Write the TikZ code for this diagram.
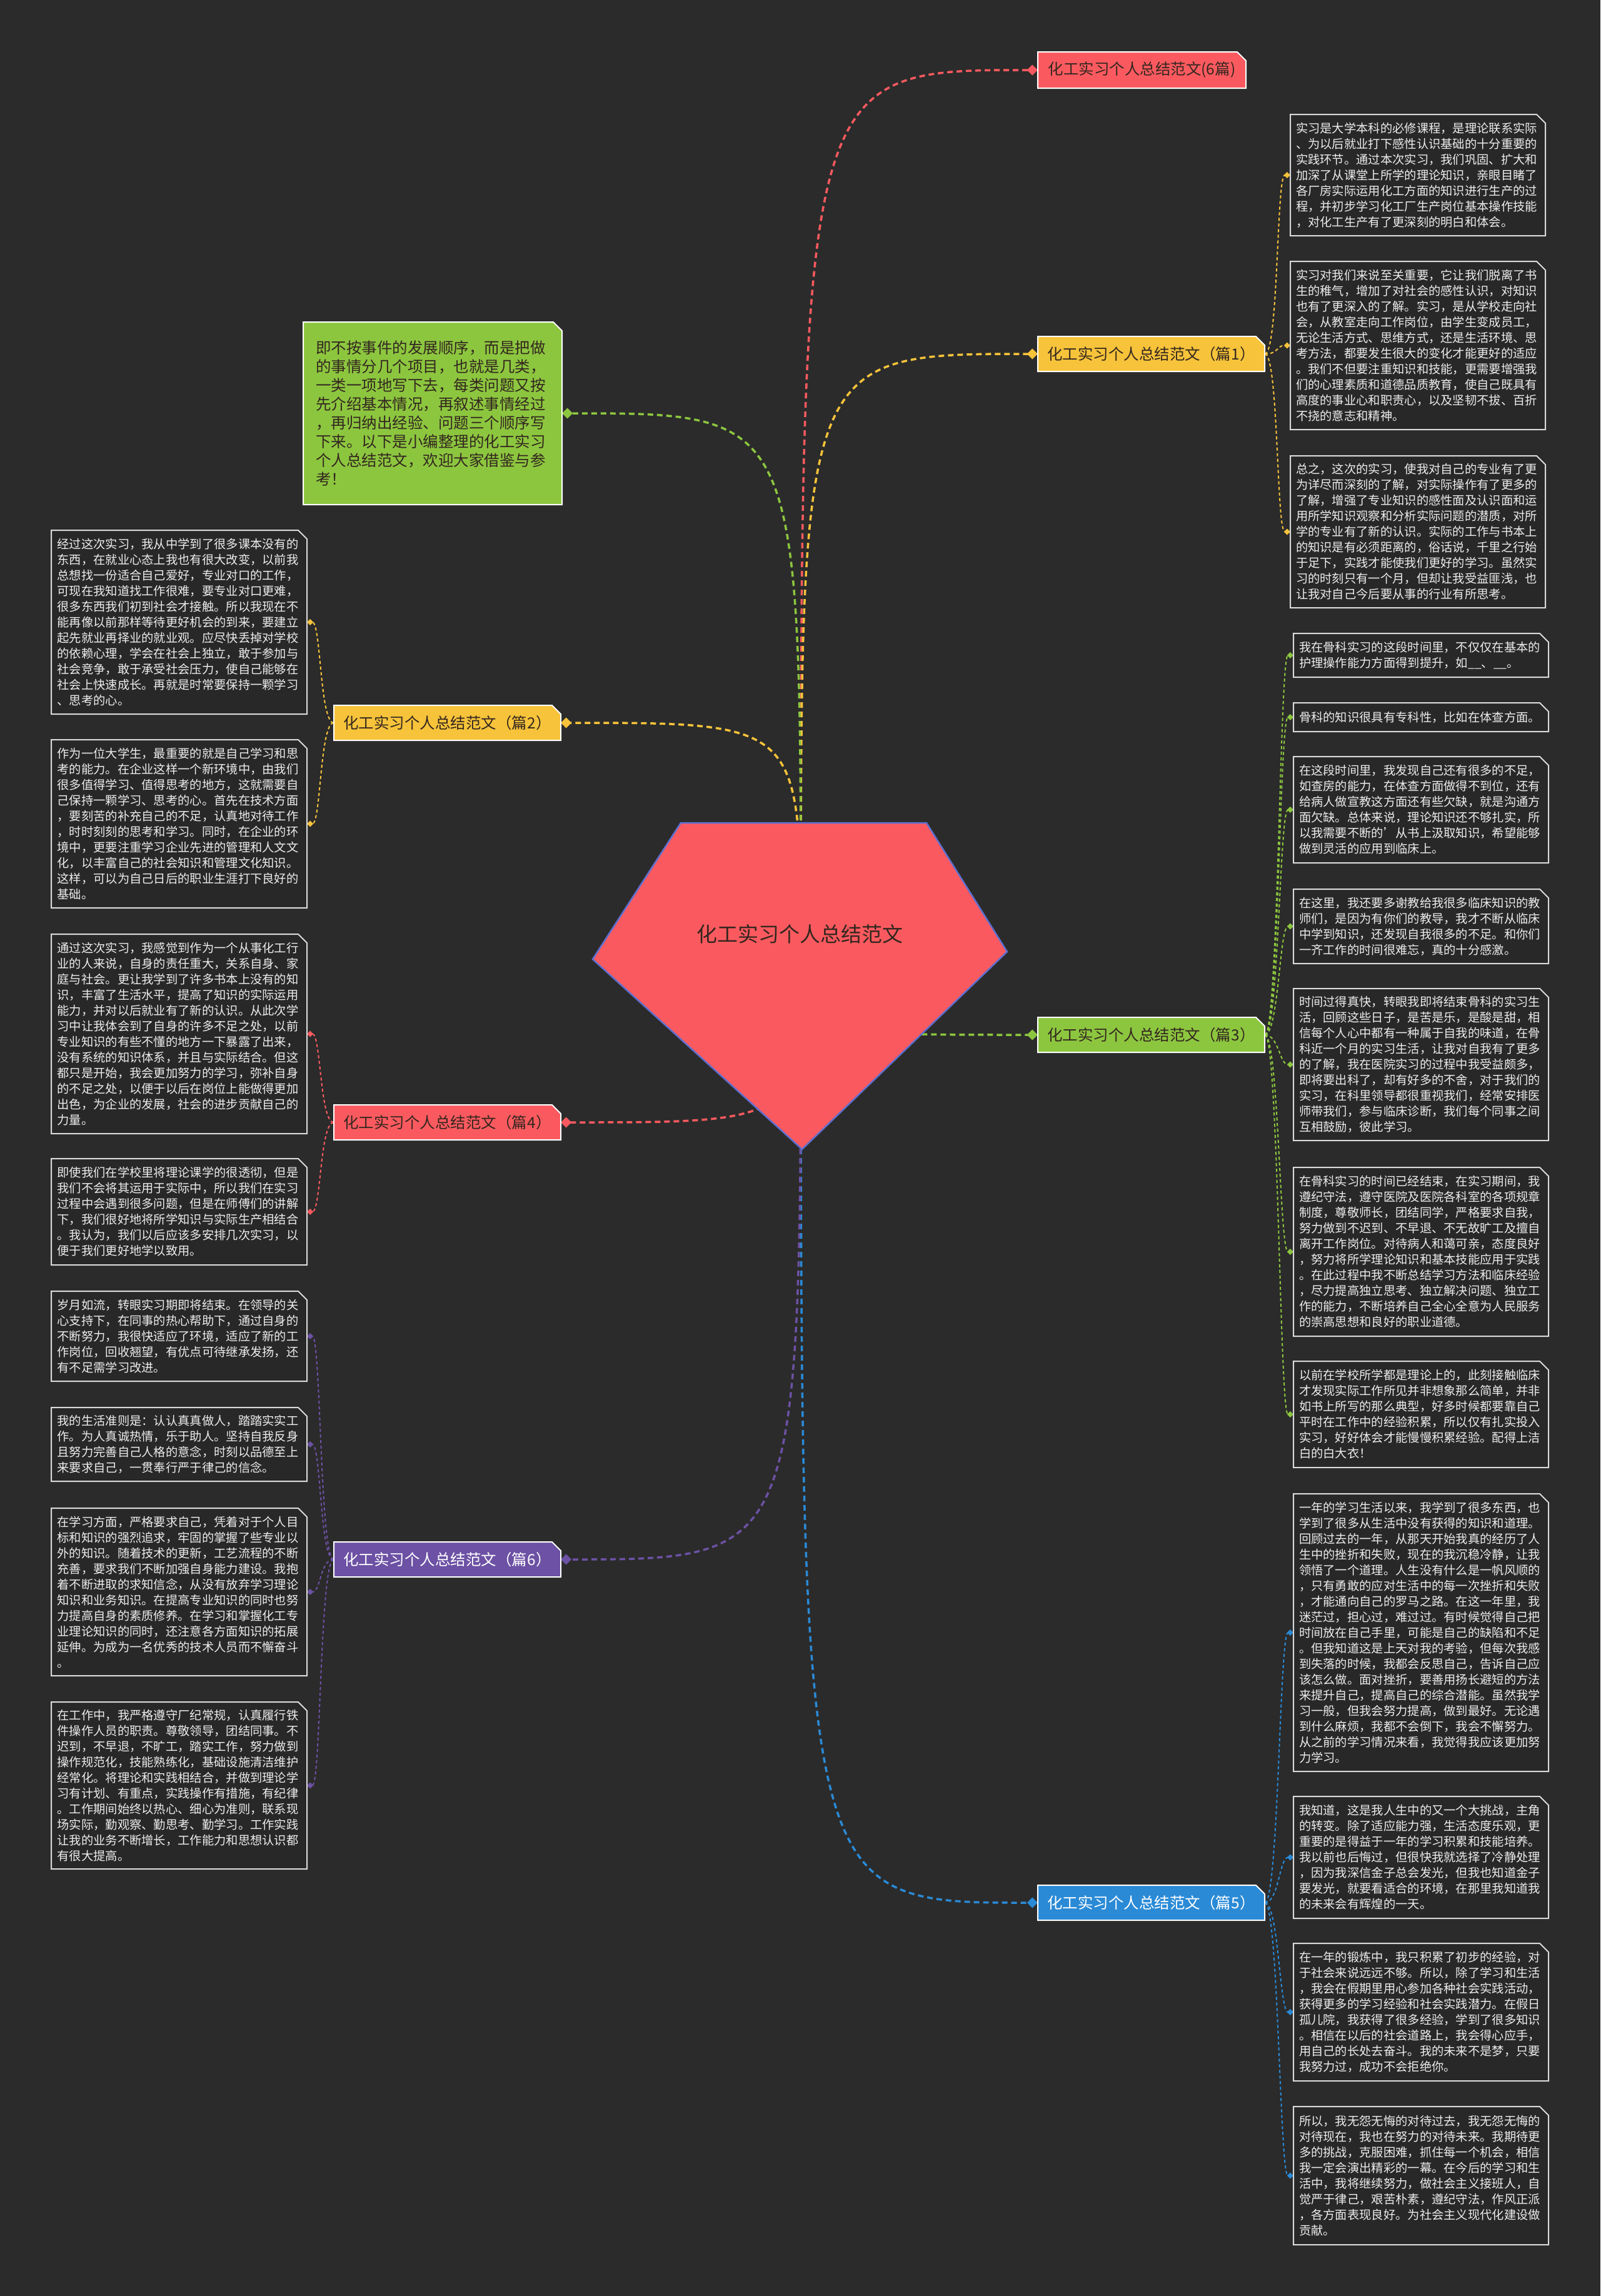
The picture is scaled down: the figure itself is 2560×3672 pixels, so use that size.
\documentclass[tikz,border=0pt]{standalone}
\usepackage{fontspec}
\setmainfont{Noto Sans CJK SC}
\usetikzlibrary{arrows.meta}

\definecolor{bgc}{HTML}{2B2B2B}
\definecolor{boxc}{HTML}{282828}
\definecolor{edgec}{HTML}{DADADA}
\definecolor{txtc}{HTML}{EDEDED}
\definecolor{darkc}{HTML}{33261F}
\definecolor{mmred}{HTML}{FA5A5F}
\definecolor{mmyellow}{HTML}{F6C33A}
\definecolor{mmgreen}{HTML}{8CC63F}
\definecolor{mmblue}{HTML}{2A8AD6}
\definecolor{mmpurple}{HTML}{6C51A4}
\definecolor{rimc}{HTML}{5E6FD0}

\pgfdeclarelayer{back}
\pgfdeclarelayer{links}
\pgfsetlayers{back,links,main}

\tikzset{
  block/.style={fill=boxc, draw=edgec, line width=2pt},
  blocktext/.style={text=txtc, text width=390pt, align=left, inner sep=0pt,
    font=\fontsize{19.3}{25}\selectfont},
  labbox/.style={draw=white, line width=2pt},
  labtext/.style={inner sep=0pt, text=darkc, font=\fontsize{24.5}{29}\selectfont},
  introtext/.style={text=darkc, text width=374pt, align=left, inner sep=0pt,
    font=\fontsize{24.5}{30}\selectfont},
  link/.style={line width=3.5pt, dash pattern=on 9pt off 6pt,
    -{Turned Square[length=17pt,width=17pt]}},
  sublink/.style={line width=2pt, dash pattern=on 5pt off 4pt,
    -{Turned Square[length=10pt,width=10pt]}}
}

% box with the top right corner cut off, and a node of the same size on it
\newcommand{\cbox}[8]{%
  \draw[#1] (#4,#5) -- (#6-14,#5) -- (#6,#5+14) -- (#6,#7) -- (#4,#7) -- cycle;
  \node[#2, minimum width=#6pt-#4pt, minimum height=#7pt-#5pt] (#3)
    at ({(#4+#6)/2},{(#5+#7)/2}) {#8};
}

\begin{document}
\begin{tikzpicture}[x=1pt, y=-1pt]
  \useasboundingbox (0,0) rectangle (2560,3672);
  \begin{pgfonlayer}{back}
    \fill[bgc] (0,0) rectangle (2560,3672);
  \end{pgfonlayer}

  % centre
  \filldraw[fill=mmred, draw=rimc, line width=2.5pt]
    (1089,1316) -- (1482,1316) -- (1611,1522) -- (1283,1838) -- (948,1534) -- cycle;
  \coordinate (hub) at (1281,1522);
  \node[text=darkc, font=\fontsize{33}{40}\selectfont] (title) at (1279,1494) {化工实习个人总结范文};

  % branch labels
  \cbox{labbox, fill=mmred}{labtext}{l0}{1660}{83}{1993}{141}{化工实习个人总结范文(6篇)}
  \cbox{labbox, fill=mmyellow}{labtext}{l1}{1660}{538}{2023}{594}{化工实习个人总结范文（篇1）}
  \cbox{labbox, fill=mmyellow}{labtext}{l2}{534}{1128}{897}{1184}{化工实习个人总结范文（篇2）}
  \cbox{labbox, fill=mmgreen}{labtext}{l3}{1660}{1627}{2023}{1683}{化工实习个人总结范文（篇3）}
  \cbox{labbox, fill=mmred}{labtext}{l4}{534}{1767}{897}{1823}{化工实习个人总结范文（篇4）}
  \cbox{labbox, fill=mmblue}{labtext, text=white}{l5}{1660}{3015}{2023}{3071}{化工实习个人总结范文（篇5）}
  \cbox{labbox, fill=mmpurple}{labtext, text=white}{l6}{534}{2466}{897}{2522}{化工实习个人总结范文（篇6）}

  \cbox{labbox, fill=mmgreen}{introtext}{intro}{485}{515}{899}{807}{即不按事件的发展顺序，而是把做\\的事情分几个项目，也就是几类，\\一类一项地写下去，每类问题又按\\先介绍基本情况，再叙述事情经过\\，再归纳出经验、问题三个顺序写\\下来。以下是小编整理的化工实习\\个人总结范文，欢迎大家借鉴与参\\考！}

  % 篇1
  \cbox{block}{blocktext}{r11}{2064}{183}{2472}{377}{实习是大学本科的必修课程，是理论联系实际\\、为以后就业打下感性认识基础的十分重要的\\实践环节。通过本次实习，我们巩固、扩大和\\加深了从课堂上所学的理论知识，亲眼目睹了\\各厂房实际运用化工方面的知识进行生产的过\\程，并初步学习化工厂生产岗位基本操作技能\\，对化工生产有了更深刻的明白和体会。}
  \cbox{block}{blocktext}{r12}{2064}{418}{2472}{687}{实习对我们来说至关重要，它让我们脱离了书\\生的稚气，增加了对社会的感性认识，对知识\\也有了更深入的了解。实习，是从学校走向社\\会，从教室走向工作岗位，由学生变成员工，\\无论生活方式、思维方式，还是生活环境、思\\考方法，都要发生很大的变化才能更好的适应\\。我们不但要注重知识和技能，更需要增强我\\们的心理素质和道德品质教育，使自己既具有\\高度的事业心和职责心，以及坚韧不拔、百折\\不挠的意志和精神。}
  \cbox{block}{blocktext}{r13}{2064}{729}{2472}{972}{总之，这次的实习，使我对自己的专业有了更\\为详尽而深刻的了解，对实际操作有了更多的\\了解，增强了专业知识的感性面及认识面和运\\用所学知识观察和分析实际问题的潜质，对所\\学的专业有了新的认识。实际的工作与书本上\\的知识是有必须距离的，俗话说，千里之行始\\于足下，实践才能使我们更好的学习。虽然实\\习的时刻只有一个月，但却让我受益匪浅，也\\让我对自己今后要从事的行业有所思考。}

  % 篇3
  \cbox{block}{blocktext}{r31}{2069}{1013}{2477}{1083}{我在骨科实习的这段时间里，不仅仅在基本的\\护理操作能力方面得到提升，如\_\_、\_\_。}
  \cbox{block}{blocktext}{r32}{2069}{1124}{2477}{1170}{骨科的知识很具有专科性，比如在体查方面。}
  \cbox{block}{blocktext}{r33}{2069}{1210}{2477}{1380}{在这段时间里，我发现自己还有很多的不足，\\如查房的能力，在体查方面做得不到位，还有\\给病人做宣教这方面还有些欠缺，就是沟通方\\面欠缺。总体来说，理论知识还不够扎实，所\\以我需要不断的'从书上汲取知识，希望能够\\做到灵活的应用到临床上。}
  \cbox{block}{blocktext}{r34}{2069}{1422}{2477}{1541}{在这里，我还要多谢教给我很多临床知识的教\\师们，是因为有你们的教导，我才不断从临床\\中学到知识，还发现自我很多的不足。和你们\\一齐工作的时间很难忘，真的十分感激。}
  \cbox{block}{blocktext}{r35}{2069}{1581}{2477}{1824}{时间过得真快，转眼我即将结束骨科的实习生\\活，回顾这些日子，是苦是乐，是酸是甜，相\\信每个人心中都有一种属于自我的味道，在骨\\科近一个月的实习生活，让我对自我有了更多\\的了解，我在医院实习的过程中我受益颇多，\\即将要出科了，却有好多的不舍，对于我们的\\实习，在科里领导都很重视我们，经常安排医\\师带我们，参与临床诊断，我们每个同事之间\\互相鼓励，彼此学习。}
  \cbox{block}{blocktext}{r36}{2069}{1867}{2477}{2137}{在骨科实习的时间已经结束，在实习期间，我\\遵纪守法，遵守医院及医院各科室的各项规章\\制度，尊敬师长，团结同学，严格要求自我，\\努力做到不迟到、不早退、不无故旷工及擅自\\离开工作岗位。对待病人和蔼可亲，态度良好\\，努力将所学理论知识和基本技能应用于实践\\。在此过程中我不断总结学习方法和临床经验\\，尽力提高独立思考、独立解决问题、独立工\\作的能力，不断培养自己全心全意为人民服务\\的崇高思想和良好的职业道德。}
  \cbox{block}{blocktext}{r37}{2069}{2177}{2477}{2347}{以前在学校所学都是理论上的，此刻接触临床\\才发现实际工作所见并非想象那么简单，并非\\如书上所写的那么典型，好多时候都要靠自己\\平时在工作中的经验积累，所以仅有扎实投入\\实习，好好体会才能慢慢积累经验。配得上洁\\白的白大衣！}

  % 篇5
  \cbox{block}{blocktext}{r51}{2069}{2389}{2477}{2833}{一年的学习生活以来，我学到了很多东西，也\\学到了很多从生活中没有获得的知识和道理。\\回顾过去的一年，从那天开始我真的经历了人\\生中的挫折和失败，现在的我沉稳冷静，让我\\领悟了一个道理。人生没有什么是一帆风顺的\\，只有勇敢的应对生活中的每一次挫折和失败\\，才能通向自己的罗马之路。在这一年里，我\\迷茫过，担心过，难过过。有时候觉得自己把\\时间放在自己手里，可能是自己的缺陷和不足\\。但我知道这是上天对我的考验，但每次我感\\到失落的时候，我都会反思自己，告诉自己应\\该怎么做。面对挫折，要善用扬长避短的方法\\来提升自己，提高自己的综合潜能。虽然我学\\习一般，但我会努力提高，做到最好。无论遇\\到什么麻烦，我都不会倒下，我会不懈努力。\\从之前的学习情况来看，我觉得我应该更加努\\力学习。}
  \cbox{block}{blocktext}{r52}{2069}{2873}{2477}{3068}{我知道，这是我人生中的又一个大挑战，主角\\的转变。除了适应能力强，生活态度乐观，更\\重要的是得益于一年的学习积累和技能培养。\\我以前也后悔过，但很快我就选择了冷静处理\\，因为我深信金子总会发光，但我也知道金子\\要发光，就要看适合的环境，在那里我知道我\\的未来会有辉煌的一天。}
  \cbox{block}{blocktext}{r53}{2069}{3108}{2477}{3328}{在一年的锻炼中，我只积累了初步的经验，对\\于社会来说远远不够。所以，除了学习和生活\\，我会在假期里用心参加各种社会实践活动，\\获得更多的学习经验和社会实践潜力。在假日\\孤儿院，我获得了很多经验，学到了很多知识\\。相信在以后的社会道路上，我会得心应手，\\用自己的长处去奋斗。我的未来不是梦，只要\\我努力过，成功不会拒绝你。}
  \cbox{block}{blocktext}{r54}{2069}{3369}{2477}{3590}{所以，我无怨无悔的对待过去，我无怨无悔的\\对待现在，我也在努力的对待未来。我期待更\\多的挑战，克服困难，抓住每一个机会，相信\\我一定会演出精彩的一幕。在今后的学习和生\\活中，我将继续努力，做社会主义接班人，自\\觉严于律己，艰苦朴素，遵纪守法，作风正派\\，各方面表现良好。为社会主义现代化建设做\\贡献。}

  % 篇2
  \cbox{block}{blocktext}{r21}{82}{848}{491}{1142}{经过这次实习，我从中学到了很多课本没有的\\东西，在就业心态上我也有很大改变，以前我\\总想找一份适合自己爱好，专业对口的工作，\\可现在我知道找工作很难，要专业对口更难，\\很多东西我们初到社会才接触。所以我现在不\\能再像以前那样等待更好机会的到来，要建立\\起先就业再择业的就业观。应尽快丢掉对学校\\的依赖心理，学会在社会上独立，敢于参加与\\社会竞争，敢于承受社会压力，使自己能够在\\社会上快速成长。再就是时常要保持一颗学习\\、思考的心。}
  \cbox{block}{blocktext}{r22}{82}{1183}{491}{1452}{作为一位大学生，最重要的就是自己学习和思\\考的能力。在企业这样一个新环境中，由我们\\很多值得学习、值得思考的地方，这就需要自\\己保持一颗学习、思考的心。首先在技术方面\\，要刻苦的补充自己的不足，认真地对待工作\\，时时刻刻的思考和学习。同时，在企业的环\\境中，更要注重学习企业先进的管理和人文文\\化，以丰富自己的社会知识和管理文化知识。\\这样，可以为自己日后的职业生涯打下良好的\\基础。}

  % 篇4
  \cbox{block}{blocktext}{r41}{82}{1494}{491}{1813}{通过这次实习，我感觉到作为一个从事化工行\\业的人来说，自身的责任重大，关系自身、家\\庭与社会。更让我学到了许多书本上没有的知\\识，丰富了生活水平，提高了知识的实际运用\\能力，并对以后就业有了新的认识。从此次学\\习中让我体会到了自身的许多不足之处，以前\\专业知识的有些不懂的地方一下暴露了出来，\\没有系统的知识体系，并且与实际结合。但这\\都只是开始，我会更加努力的学习，弥补自身\\的不足之处，以便于以后在岗位上能做得更加\\出色，为企业的发展，社会的进步贡献自己的\\力量。}
  \cbox{block}{blocktext}{r42}{82}{1853}{491}{2023}{即使我们在学校里将理论课学的很透彻，但是\\我们不会将其运用于实际中，所以我们在实习\\过程中会遇到很多问题，但是在师傅们的讲解\\下，我们很好地将所学知识与实际生产相结合\\。我认为，我们以后应该多安排几次实习，以\\便于我们更好地学以致用。}

  % 篇6
  \cbox{block}{blocktext}{r61}{82}{2065}{491}{2209}{岁月如流，转眼实习期即将结束。在领导的关\\心支持下，在同事的热心帮助下，通过自身的\\不断努力，我很快适应了环境，适应了新的工\\作岗位，回收翘望，有优点可待继承发扬，还\\有不足需学习改进。}
  \cbox{block}{blocktext}{r62}{82}{2251}{491}{2369}{我的生活准则是：认认真真做人，踏踏实实工\\作。为人真诚热情，乐于助人。坚持自我反身\\且努力完善自己人格的意念，时刻以品德至上\\来要求自己，一贯奉行严于律己的信念。}
  \cbox{block}{blocktext}{r63}{82}{2412}{491}{2680}{在学习方面，严格要求自己，凭着对于个人目\\标和知识的强烈追求，牢固的掌握了些专业以\\外的知识。随着技术的更新，工艺流程的不断\\充善，要求我们不断加强自身能力建设。我抱\\着不断进取的求知信念，从没有放弃学习理论\\知识和业务知识。在提高专业知识的同时也努\\力提高自身的素质修养。在学习和掌握化工专\\业理论知识的同时，还注意各方面知识的拓展\\延伸。为成为一名优秀的技术人员而不懈奋斗\\。}
  \cbox{block}{blocktext}{r64}{82}{2722}{491}{2989}{在工作中，我严格遵守厂纪常规，认真履行铁\\件操作人员的职责。尊敬领导，团结同事。不\\迟到，不早退，不旷工，踏实工作，努力做到\\操作规范化，技能熟练化，基础设施清洁维护\\经常化。将理论和实践相结合，并做到理论学\\习有计划、有重点，实践操作有措施，有纪律\\。工作期间始终以热心、细心为准则，联系现\\场实际，勤观察、勤思考、勤学习。工作实践\\让我的业务不断增长，工作能力和思想认识都\\有很大提高。}

  \begin{pgfonlayer}{links}
    % centre to branches
    \draw[link, mmred] (hub) .. controls (hub |- l0.west) .. (l0.west);
    \draw[link, mmyellow] (hub) .. controls (hub |- l1.west) .. (l1.west);
    \draw[link, mmgreen] (hub) .. controls (hub |- intro.east) .. (intro.east);
    \draw[link, mmyellow] (hub) .. controls (hub |- l2.east) .. (l2.east);
    \draw[link, mmgreen] (hub) .. controls (hub |- l3.west) .. (l3.west);
    \draw[link, mmred] (hub) .. controls (hub |- l4.east) .. (l4.east);
    \draw[link, mmblue] (hub) .. controls (hub |- l5.west) .. (l5.west);
    \draw[link, mmpurple] (hub) .. controls (hub |- l6.east) .. (l6.east);

    % branches to texts
    \draw[sublink, mmyellow] (l1.east) .. controls +(22,0) and +(-22,0) .. (r11.west);
    \draw[sublink, mmyellow] (l1.east) .. controls +(22,0) and +(-22,0) .. (r12.west);
    \draw[sublink, mmyellow] (l1.east) .. controls +(22,0) and +(-22,0) .. (r13.west);

    \draw[sublink, mmgreen] (l3.east) .. controls +(22,0) and +(-22,0) .. (r31.west);
    \draw[sublink, mmgreen] (l3.east) .. controls +(22,0) and +(-22,0) .. (r32.west);
    \draw[sublink, mmgreen] (l3.east) .. controls +(22,0) and +(-22,0) .. (r33.west);
    \draw[sublink, mmgreen] (l3.east) .. controls +(22,0) and +(-22,0) .. (r34.west);
    \draw[sublink, mmgreen] (l3.east) .. controls +(22,0) and +(-22,0) .. (r35.west);
    \draw[sublink, mmgreen] (l3.east) .. controls +(22,0) and +(-22,0) .. (r36.west);
    \draw[sublink, mmgreen] (l3.east) .. controls +(22,0) and +(-22,0) .. (r37.west);

    \draw[sublink, mmblue] (l5.east) .. controls +(22,0) and +(-22,0) .. (r51.west);
    \draw[sublink, mmblue] (l5.east) .. controls +(22,0) and +(-22,0) .. (r52.west);
    \draw[sublink, mmblue] (l5.east) .. controls +(22,0) and +(-22,0) .. (r53.west);
    \draw[sublink, mmblue] (l5.east) .. controls +(22,0) and +(-22,0) .. (r54.west);

    \draw[sublink, mmyellow] (l2.west) .. controls +(-22,0) and +(22,0) .. (r21.east);
    \draw[sublink, mmyellow] (l2.west) .. controls +(-22,0) and +(22,0) .. (r22.east);

    \draw[sublink, mmred] (l4.west) .. controls +(-22,0) and +(22,0) .. (r41.east);
    \draw[sublink, mmred] (l4.west) .. controls +(-22,0) and +(22,0) .. (r42.east);

    \draw[sublink, mmpurple] (l6.west) .. controls +(-22,0) and +(22,0) .. (r61.east);
    \draw[sublink, mmpurple] (l6.west) .. controls +(-22,0) and +(22,0) .. (r62.east);
    \draw[sublink, mmpurple] (l6.west) .. controls +(-22,0) and +(22,0) .. (r63.east);
    \draw[sublink, mmpurple] (l6.west) .. controls +(-22,0) and +(22,0) .. (r64.east);
  \end{pgfonlayer}
\end{tikzpicture}
\end{document}
